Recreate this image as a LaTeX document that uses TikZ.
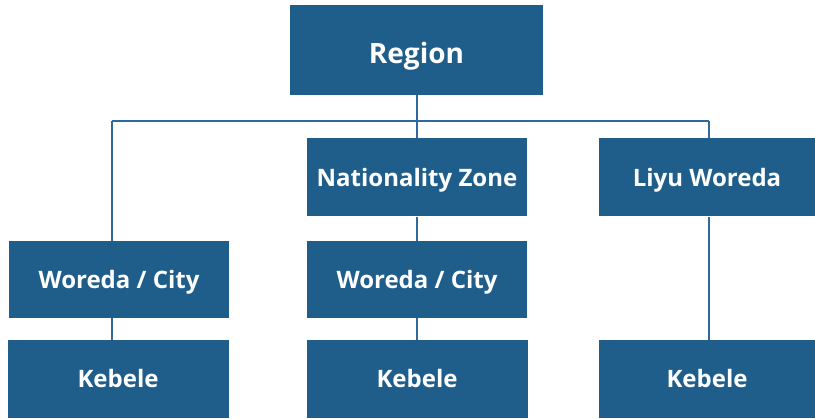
\documentclass[tikz,border=0pt]{standalone}
\usepackage{fontspec}
\setmainfont{Open Sans}
\definecolor{boxblue}{RGB}{31,94,138}
\definecolor{lineblue}{RGB}{50,104,160}
\begin{document}
\begin{tikzpicture}[x=1pt,y=-1pt,
  unit/.style={fill=boxblue, draw=none, text=white, font=\bfseries\fontsize{24}{28}\selectfont,
    text height=18pt, text depth=0pt,
    minimum width=220pt, minimum height=78pt, inner sep=0pt},
  link/.style={draw=lineblue, line width=2.4pt}]
\useasboundingbox (0,0) rectangle (815,419);

% organisational units
\node[unit, minimum width=253pt, minimum height=90pt, font=\bfseries\fontsize{28}{32}\selectfont,
  text height=28pt] (region) at (416.5,50) {Region};
\node[unit] (zone) at (417,177.5) {Nationality Zone};
\node[unit, minimum width=216pt] (liyu) at (707,177.5) {Liyu Woreda};
\node[unit, minimum height=77pt] (woredaL) at (119,279.5) {Woreda / City};
\node[unit, minimum height=77pt] (woredaM) at (417,279.5) {Woreda / City};
\node[unit, minimum width=221pt] (kebeleL) at (118,379) {Kebele};
\node[unit, minimum width=221pt] (kebeleM) at (417,379) {Kebele};
\node[unit, minimum width=216pt] (kebeleR) at (707,379) {Kebele};

% branch points on the horizontal bus
\coordinate (busL) at (112,121);
\coordinate (busM) at (417,121);
\coordinate (busR) at (709,121);

% connectors
\draw[link] (busL) -- (busR);
\draw[link] (region.south -| busM) -- (zone.north -| busM);
\draw[link] (busL) -- (woredaL.north -| busL);
\draw[link] (busR) -- (liyu.north -| busR);
\draw[link] (woredaL.south -| busL) -- (kebeleL.north -| busL);
\draw[link] (zone.south) -- (woredaM.north);
\draw[link] (woredaM.south) -- (kebeleM.north);
\draw[link] (liyu.south -| busR) -- (kebeleR.north -| busR);
\end{tikzpicture}
\end{document}
